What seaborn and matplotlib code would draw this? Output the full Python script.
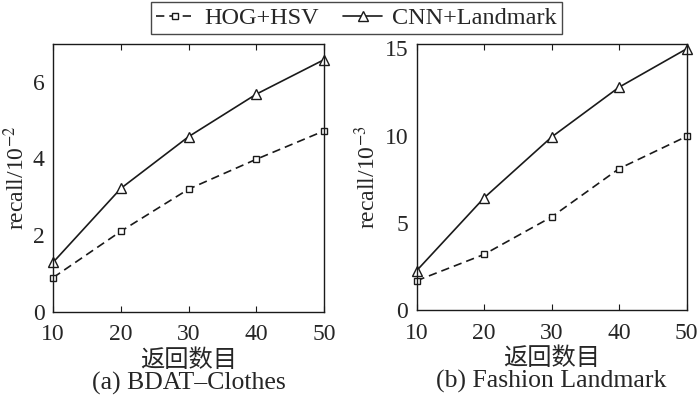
import numpy as np
import pandas as pd
import matplotlib
matplotlib.use('Agg')
import matplotlib.pyplot as plt
import seaborn as sns

sns.set_style('ticks')
plt.rcParams['font.family'] = ['Liberation Serif', 'Noto Sans CJK SC']
plt.rcParams['mathtext.fontset'] = 'stix'

# data
returns = [10, 20, 30, 40, 50]
hog_a = [0.89, 2.10, 3.20, 3.98, 4.72]
cnn_a = [1.29, 3.22, 4.57, 5.68, 6.58]
hog_b = [1.68, 3.19, 5.34, 8.11, 9.96]
cnn_b = [2.25, 6.43, 9.92, 12.78, 14.98]
series = ['HOG+HSV', 'CNN+Landmark']
ylabels = ['recall/10$^{-2}$', 'recall/10$^{-3}$']
captions = ['(a) BDAT\u2013Clothes', '(b) Fashion Landmark']
xlabel = '返回数目'

ink = '#1a1a1a'
fig = plt.figure(figsize=(7, 3.96), dpi=100)
ax1 = fig.add_axes([0.076, 0.213, 0.387, 0.677])
ax2 = fig.add_axes([0.595, 0.217, 0.386, 0.673])

panels = [(ax1, hog_a, cnn_a, [0, 2, 4, 6], 7.0),
          (ax2, hog_b, cnn_b, [0, 5, 10, 15], 15.28)]

for i, (ax, hog, cnn, yt, ytop) in enumerate(panels):
    df = pd.DataFrame({'n': returns, 'hog': hog, 'cnn': cnn})
    sns.lineplot(data=df, x='n', y='hog', ax=ax, color=ink, lw=1.2,
                 linestyle=(0, (5, 3)), marker='s', markersize=5,
                 markerfacecolor='white', markeredgecolor=ink,
                 markeredgewidth=1.0, label=series[0], legend=False, clip_on=False)
    sns.lineplot(data=df, x='n', y='cnn', ax=ax, color=ink, lw=1.2,
                 marker='^', markersize=7.5, markerfacecolor='white',
                 markeredgecolor=ink, markeredgewidth=1.0,
                 label=series[1], legend=False, clip_on=False)
    ax.set_xlim(10, 50)
    ax.set_ylim(0, ytop)
    ax.set_xticks(returns)
    ax.set_yticks(yt)
    ax.tick_params(axis='x', direction='in', top=True, length=4, width=0.8,
                   labelsize=17, pad=9, color=ink)
    ax.tick_params(axis='y', direction='in', length=0, labelsize=17, pad=6)
    for s in ax.spines.values():
        s.set_color(ink)
        s.set_linewidth(1.0)
    ax.set_ylabel(ylabels[i], fontsize=17, labelpad=3)
    ax.set_xlabel(xlabel, fontsize=17.5, family=['Noto Sans CJK SC'], labelpad=1)
    ax.text(0.5, -0.225, captions[i], transform=ax.transAxes, ha='center',
            va='top', fontsize=18.5)

h, l = ax1.get_legend_handles_labels()
leg = fig.legend(h, l, loc='upper center', bbox_to_anchor=(0.509, 1.0), ncol=2,
                 fontsize=17.5, frameon=True, fancybox=False, edgecolor=ink,
                 handlelength=1.6, handletextpad=0.4, columnspacing=1.0,
                 borderpad=0.2, borderaxespad=0.1)
leg.get_frame().set_linewidth(1.0)

fig.savefig('out.png', dpi=100)
